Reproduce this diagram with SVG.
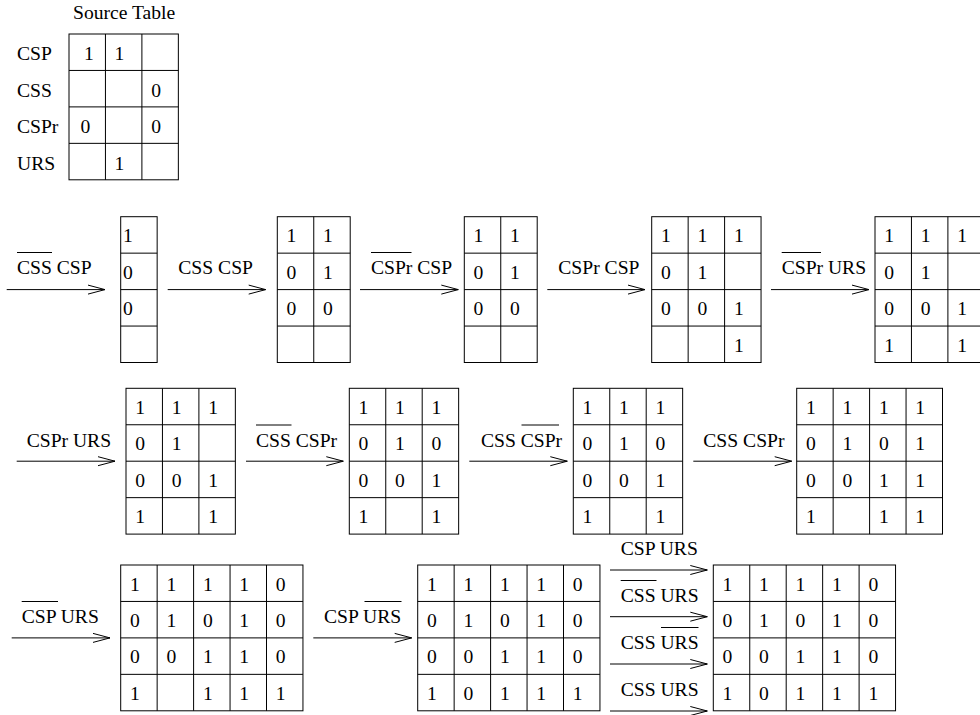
<svg xmlns="http://www.w3.org/2000/svg" width="980" height="715" viewBox="0 0 980 715" font-family="Liberation Serif, Times New Roman, serif" font-size="19.6">
<style>
.g{fill:none;stroke:#000;stroke-width:1}
.t{fill:#000}
.ov{stroke:#000;stroke-width:1}
.ar{stroke:#000;stroke-width:1;fill:none;marker-end:url(#hd)}
</style>
<defs>
<marker id="hd" markerUnits="userSpaceOnUse" markerWidth="20" markerHeight="12" refX="17" refY="5" orient="auto" overflow="visible">
<path d="M0,0.5 L17,5 L0,9.5" fill="none" stroke="#000" stroke-width="1"/>
</marker>
</defs>
<rect width="980" height="715" fill="#fff"/>

<g id="source-table">
<text class="t" x="73" y="19">Source Table</text>
<text class="t" x="17" y="60">CSP</text>
<text class="t" x="17" y="96.5">CSS</text>
<text class="t" x="17" y="133">CSPr</text>
<text class="t" x="17" y="169.5">URS</text>
<rect class="g" x="69" y="34" width="109.35" height="145.8"/>
<path class="g" d="M105.45,34V179.8M141.9,34V179.8M69,70.45H178.35M69,106.9H178.35M69,143.35H178.35"/>
<text class="t" x="84" y="60">1</text><text class="t" x="114.5" y="60">1</text>
<text class="t" x="151.2" y="96.5">0</text>
<text class="t" x="80.5" y="133">0</text><text class="t" x="151.2" y="133">0</text>
<text class="t" x="114.5" y="169.5">1</text>
</g>

<g id="grid-a">
<rect class="g" x="120.7" y="216.7" width="36.45" height="145.8"/>
<path class="g" d="M120.7,253.15H157.15M120.7,289.6H157.15M120.7,326.05H157.15"/>
<text class="t" x="122.9" y="242.2">1</text>
<text class="t" x="122.9" y="278.65">0</text>
<text class="t" x="122.9" y="315.1">0</text>
</g>

<g id="grid-b">
<rect class="g" x="277.3" y="216.7" width="72.9" height="145.8"/>
<path class="g" d="M313.75,216.7V362.5M277.3,253.15H350.2M277.3,289.6H350.2M277.3,326.05H350.2"/>
<text class="t" x="286.6" y="242.2">1</text><text class="t" x="323.05" y="242.2">1</text>
<text class="t" x="286.6" y="278.65">0</text><text class="t" x="323.05" y="278.65">1</text>
<text class="t" x="286.6" y="315.1">0</text><text class="t" x="323.05" y="315.1">0</text>
</g>

<g id="grid-c">
<rect class="g" x="464.3" y="216.7" width="72.9" height="145.8"/>
<path class="g" d="M500.75,216.7V362.5M464.3,253.15H537.2M464.3,289.6H537.2M464.3,326.05H537.2"/>
<text class="t" x="473.6" y="242.2">1</text><text class="t" x="510.05" y="242.2">1</text>
<text class="t" x="473.6" y="278.65">0</text><text class="t" x="510.05" y="278.65">1</text>
<text class="t" x="473.6" y="315.1">0</text><text class="t" x="510.05" y="315.1">0</text>
</g>

<g id="grid-d">
<rect class="g" x="651.7" y="216.7" width="109.35" height="145.8"/>
<path class="g" d="M688.15,216.7V362.5M724.6,216.7V362.5M651.7,253.15H761.05M651.7,289.6H761.05M651.7,326.05H761.05"/>
<text class="t" x="661" y="242.2">1</text><text class="t" x="697.45" y="242.2">1</text><text class="t" x="733.9" y="242.2">1</text>
<text class="t" x="661" y="278.65">0</text><text class="t" x="697.45" y="278.65">1</text>
<text class="t" x="661" y="315.1">0</text><text class="t" x="697.45" y="315.1">0</text><text class="t" x="733.9" y="315.1">1</text>
<text class="t" x="733.9" y="351.55">1</text>
</g>

<g id="grid-e">
<rect class="g" x="875" y="216.7" width="109.35" height="145.8"/>
<path class="g" d="M911.45,216.7V362.5M947.9,216.7V362.5M875,253.15H984.35M875,289.6H984.35M875,326.05H984.35"/>
<text class="t" x="884.3" y="242.2">1</text><text class="t" x="920.75" y="242.2">1</text><text class="t" x="957.2" y="242.2">1</text>
<text class="t" x="884.3" y="278.65">0</text><text class="t" x="920.75" y="278.65">1</text>
<text class="t" x="884.3" y="315.1">0</text><text class="t" x="920.75" y="315.1">0</text><text class="t" x="957.2" y="315.1">1</text>
<text class="t" x="884.3" y="351.55">1</text><text class="t" x="957.2" y="351.55">1</text>
</g>

<g id="grid-f">
<rect class="g" x="126" y="388.3" width="109.35" height="145.8"/>
<path class="g" d="M162.45,388.3V534.1M198.9,388.3V534.1M126,424.75H235.35M126,461.2H235.35M126,497.65H235.35"/>
<text class="t" x="135.3" y="413.8">1</text><text class="t" x="171.75" y="413.8">1</text><text class="t" x="208.2" y="413.8">1</text>
<text class="t" x="135.3" y="450.25">0</text><text class="t" x="171.75" y="450.25">1</text>
<text class="t" x="135.3" y="486.7">0</text><text class="t" x="171.75" y="486.7">0</text><text class="t" x="208.2" y="486.7">1</text>
<text class="t" x="135.3" y="523.15">1</text><text class="t" x="208.2" y="523.15">1</text>
</g>

<g id="grid-g">
<rect class="g" x="349.3" y="388.3" width="109.35" height="145.8"/>
<path class="g" d="M385.75,388.3V534.1M422.2,388.3V534.1M349.3,424.75H458.65M349.3,461.2H458.65M349.3,497.65H458.65"/>
<text class="t" x="358.6" y="413.8">1</text><text class="t" x="395.05" y="413.8">1</text><text class="t" x="431.5" y="413.8">1</text>
<text class="t" x="358.6" y="450.25">0</text><text class="t" x="395.05" y="450.25">1</text><text class="t" x="431.5" y="450.25">0</text>
<text class="t" x="358.6" y="486.7">0</text><text class="t" x="395.05" y="486.7">0</text><text class="t" x="431.5" y="486.7">1</text>
<text class="t" x="358.6" y="523.15">1</text><text class="t" x="431.5" y="523.15">1</text>
</g>

<g id="grid-h">
<rect class="g" x="573.3" y="388.3" width="109.35" height="145.8"/>
<path class="g" d="M609.75,388.3V534.1M646.2,388.3V534.1M573.3,424.75H682.65M573.3,461.2H682.65M573.3,497.65H682.65"/>
<text class="t" x="582.6" y="413.8">1</text><text class="t" x="619.05" y="413.8">1</text><text class="t" x="655.5" y="413.8">1</text>
<text class="t" x="582.6" y="450.25">0</text><text class="t" x="619.05" y="450.25">1</text><text class="t" x="655.5" y="450.25">0</text>
<text class="t" x="582.6" y="486.7">0</text><text class="t" x="619.05" y="486.7">0</text><text class="t" x="655.5" y="486.7">1</text>
<text class="t" x="582.6" y="523.15">1</text><text class="t" x="655.5" y="523.15">1</text>
</g>

<g id="grid-i">
<rect class="g" x="796.7" y="388.3" width="145.8" height="145.8"/>
<path class="g" d="M833.15,388.3V534.1M869.6,388.3V534.1M906.05,388.3V534.1M796.7,424.75H942.5M796.7,461.2H942.5M796.7,497.65H942.5"/>
<text class="t" x="806" y="413.8">1</text><text class="t" x="842.45" y="413.8">1</text><text class="t" x="878.9" y="413.8">1</text><text class="t" x="915.35" y="413.8">1</text>
<text class="t" x="806" y="450.25">0</text><text class="t" x="842.45" y="450.25">1</text><text class="t" x="878.9" y="450.25">0</text><text class="t" x="915.35" y="450.25">1</text>
<text class="t" x="806" y="486.7">0</text><text class="t" x="842.45" y="486.7">0</text><text class="t" x="878.9" y="486.7">1</text><text class="t" x="915.35" y="486.7">1</text>
<text class="t" x="806" y="523.15">1</text><text class="t" x="878.9" y="523.15">1</text><text class="t" x="915.35" y="523.15">1</text>
</g>

<g id="grid-j">
<rect class="g" x="120.7" y="565" width="182.25" height="145.8"/>
<path class="g" d="M157.15,565V710.8M193.6,565V710.8M230.05,565V710.8M266.5,565V710.8M120.7,601.45H302.95M120.7,637.9H302.95M120.7,674.35H302.95"/>
<text class="t" x="130" y="590.5">1</text><text class="t" x="166.45" y="590.5">1</text><text class="t" x="202.9" y="590.5">1</text><text class="t" x="239.35" y="590.5">1</text><text class="t" x="275.8" y="590.5">0</text>
<text class="t" x="130" y="626.95">0</text><text class="t" x="166.45" y="626.95">1</text><text class="t" x="202.9" y="626.95">0</text><text class="t" x="239.35" y="626.95">1</text><text class="t" x="275.8" y="626.95">0</text>
<text class="t" x="130" y="663.4">0</text><text class="t" x="166.45" y="663.4">0</text><text class="t" x="202.9" y="663.4">1</text><text class="t" x="239.35" y="663.4">1</text><text class="t" x="275.8" y="663.4">0</text>
<text class="t" x="130" y="699.85">1</text><text class="t" x="202.9" y="699.85">1</text><text class="t" x="239.35" y="699.85">1</text><text class="t" x="275.8" y="699.85">1</text>
</g>

<g id="grid-k">
<rect class="g" x="417.7" y="565" width="182.25" height="145.8"/>
<path class="g" d="M454.15,565V710.8M490.6,565V710.8M527.05,565V710.8M563.5,565V710.8M417.7,601.45H599.95M417.7,637.9H599.95M417.7,674.35H599.95"/>
<text class="t" x="427" y="590.5">1</text><text class="t" x="463.45" y="590.5">1</text><text class="t" x="499.9" y="590.5">1</text><text class="t" x="536.35" y="590.5">1</text><text class="t" x="572.8" y="590.5">0</text>
<text class="t" x="427" y="626.95">0</text><text class="t" x="463.45" y="626.95">1</text><text class="t" x="499.9" y="626.95">0</text><text class="t" x="536.35" y="626.95">1</text><text class="t" x="572.8" y="626.95">0</text>
<text class="t" x="427" y="663.4">0</text><text class="t" x="463.45" y="663.4">0</text><text class="t" x="499.9" y="663.4">1</text><text class="t" x="536.35" y="663.4">1</text><text class="t" x="572.8" y="663.4">0</text>
<text class="t" x="427" y="699.85">1</text><text class="t" x="463.45" y="699.85">0</text><text class="t" x="499.9" y="699.85">1</text><text class="t" x="536.35" y="699.85">1</text><text class="t" x="572.8" y="699.85">1</text>
</g>

<g id="grid-l">
<rect class="g" x="713.3" y="565" width="182.25" height="145.8"/>
<path class="g" d="M749.75,565V710.8M786.2,565V710.8M822.65,565V710.8M859.1,565V710.8M713.3,601.45H895.55M713.3,637.9H895.55M713.3,674.35H895.55"/>
<text class="t" x="722.6" y="590.5">1</text><text class="t" x="759.05" y="590.5">1</text><text class="t" x="795.5" y="590.5">1</text><text class="t" x="831.95" y="590.5">1</text><text class="t" x="868.4" y="590.5">0</text>
<text class="t" x="722.6" y="626.95">0</text><text class="t" x="759.05" y="626.95">1</text><text class="t" x="795.5" y="626.95">0</text><text class="t" x="831.95" y="626.95">1</text><text class="t" x="868.4" y="626.95">0</text>
<text class="t" x="722.6" y="663.4">0</text><text class="t" x="759.05" y="663.4">0</text><text class="t" x="795.5" y="663.4">1</text><text class="t" x="831.95" y="663.4">1</text><text class="t" x="868.4" y="663.4">0</text>
<text class="t" x="722.6" y="699.85">1</text><text class="t" x="759.05" y="699.85">0</text><text class="t" x="795.5" y="699.85">1</text><text class="t" x="831.95" y="699.85">1</text><text class="t" x="868.4" y="699.85">1</text>
</g>

<g id="connectors">
<path class="ar" d="M6.7,289.6H105"/>
<path class="ar" d="M167.7,289.6H265.7"/>
<path class="ar" d="M360,289.6H458.3"/>
<path class="ar" d="M547.3,289.6H645"/>
<path class="ar" d="M771,289.6H869"/>
<path class="ar" d="M16.7,461.2H115"/>
<path class="ar" d="M246,461.2H343.3"/>
<path class="ar" d="M469.3,461.2H567.3"/>
<path class="ar" d="M693.3,461.2H791.7"/>
<path class="ar" d="M11.7,637.9H110"/>
<path class="ar" d="M313.3,637.9H411.7"/>
<path class="ar" d="M610,570H707.3"/>
<path class="ar" d="M610,616.7H707.3"/>
<path class="ar" d="M610,664H707.3"/>
<path class="ar" d="M610,711H707.3"/>

<text class="t" x="17" y="274">CSS CSP</text>
<line class="ov" x1="17" y1="252.5" x2="52" y2="252.5"/>
<text class="t" x="178.3" y="274">CSS CSP</text>
<text class="t" x="371" y="274">CSPr CSP</text>
<line class="ov" x1="371" y1="252.5" x2="411.5" y2="252.5"/>
<text class="t" x="558.3" y="274">CSPr CSP</text>
<text class="t" x="781.7" y="274">CSPr URS</text>
<line class="ov" x1="781.7" y1="252.5" x2="821" y2="252.5"/>

<text class="t" x="26.7" y="446.5">CSPr URS</text>
<text class="t" x="256" y="446.5">CSS CSPr</text>
<line class="ov" x1="256" y1="425" x2="291.5" y2="425"/>
<text class="t" x="481" y="446.5">CSS CSPr</text>
<line class="ov" x1="521.5" y1="425" x2="559" y2="425"/>
<text class="t" x="703.3" y="446.5">CSS CSPr</text>

<text class="t" x="21.7" y="623">CSP URS</text>
<line class="ov" x1="21.7" y1="601.5" x2="58" y2="601.5"/>
<text class="t" x="324" y="623">CSP URS</text>
<line class="ov" x1="364.5" y1="601.5" x2="401.5" y2="601.5"/>

<text class="t" x="620.7" y="555">CSP URS</text>
<text class="t" x="620.7" y="602">CSS URS</text>
<line class="ov" x1="620.7" y1="580.5" x2="656.5" y2="580.5"/>
<text class="t" x="620.7" y="649">CSS URS</text>
<line class="ov" x1="661" y1="627.5" x2="698.5" y2="627.5"/>
<text class="t" x="620.7" y="696">CSS URS</text>
</g>
</svg>
